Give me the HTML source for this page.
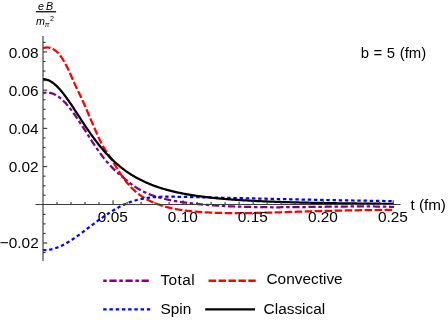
<!DOCTYPE html>
<html><head><meta charset="utf-8"><style>
html,body{margin:0;padding:0;background:#fff;overflow:hidden;}
svg{display:block;will-change:transform;font-family:"Liberation Sans",sans-serif;}
</style></head><body>
<svg width="448" height="327" viewBox="0 0 448 327">
<rect width="448" height="327" fill="#fff"/>
<g fill="none" stroke-width="2.25" stroke-linejoin="round">
<path d="M43.0,93.15 L44.0,92.91 L45.0,92.75 L46.0,92.65 L47.0,92.62 L48.0,92.65 L49.0,92.74 L50.0,92.90 L51.0,93.12 L52.0,93.41 L53.0,93.76 L54.0,94.16 L55.0,94.63 L56.0,95.16 L57.0,95.75 L58.0,96.39 L59.0,97.10 L60.0,97.86 L61.0,98.67 L62.0,99.55 L63.0,100.48 L64.0,101.46 L65.0,102.50 L66.0,103.59 L67.0,104.72 L68.0,105.90 L69.0,107.12 L70.0,108.38 L71.0,109.67 L72.0,111.00 L73.0,112.37 L74.0,113.76 L75.0,115.18 L76.0,116.62 L77.0,118.08 L78.0,119.57 L79.0,121.07 L80.0,122.59 L81.0,124.12 L82.0,125.66 L83.0,127.21 L84.0,128.77 L85.0,130.34 L86.0,131.91 L87.0,133.48 L88.0,135.05 L89.0,136.61 L90.0,138.17 L91.0,139.73 L92.0,141.27 L93.0,142.81 L94.0,144.33 L95.0,145.83 L96.0,147.32 L97.0,148.79 L98.0,150.23 L99.0,151.66 L100.0,153.05 L101.0,154.42 L102.0,155.76 L103.0,157.07 L104.0,158.34 L105.0,159.58 L106.0,160.78 L107.0,161.96 L108.0,163.10 L109.0,164.21 L110.0,165.29 L111.0,166.34 L112.0,167.37 L113.0,168.38 L114.0,169.36 L115.0,170.32 L116.0,171.26 L117.0,172.18 L118.0,173.08 L119.0,173.97 L120.0,174.85 L121.0,175.71 L122.0,176.55 L123.0,177.39 L124.0,178.22 L125.0,179.04 L126.0,179.85 L127.0,180.66 L128.0,181.47 L129.0,182.26 L130.0,183.05 L131.0,183.82 L132.0,184.58 L133.0,185.32 L134.0,186.03 L135.0,186.72 L136.0,187.38 L137.0,188.02 L138.0,188.64 L139.0,189.24 L140.0,189.81 L141.0,190.36 L142.0,190.90 L143.0,191.41 L144.0,191.90 L145.0,192.38 L146.0,192.83 L147.0,193.27 L148.0,193.70 L149.0,194.10 L150.0,194.49 L151.0,194.87 L152.0,195.24 L153.0,195.59 L154.0,195.92 L155.0,196.25 L156.0,196.56 L157.0,196.87 L158.0,197.16 L159.0,197.45 L160.0,197.72 L161.0,197.99 L162.0,198.25 L163.0,198.51 L164.0,198.75 L165.0,198.99 L166.0,199.23 L167.0,199.45 L168.0,199.67 L169.0,199.89 L170.0,200.10 L171.0,200.30 L172.0,200.50 L173.0,200.69 L174.0,200.88 L175.0,201.06 L176.0,201.23 L177.0,201.40 L178.0,201.57 L179.0,201.73 L180.0,201.89 L181.0,202.04 L182.0,202.18 L183.0,202.33 L184.0,202.47 L185.0,202.60 L186.0,202.73 L187.0,202.86 L188.0,202.99 L189.0,203.11 L190.0,203.23 L191.0,203.34 L192.0,203.45 L193.0,203.56 L194.0,203.67 L195.0,203.78 L196.0,203.88 L197.0,203.98 L198.0,204.08 L199.0,204.17 L200.0,204.27 L201.0,204.36 L202.0,204.45 L203.0,204.54 L204.0,204.63 L205.0,204.71 L206.0,204.80 L207.0,204.88 L208.0,204.96 L209.0,205.04 L210.0,205.11 L211.0,205.19 L212.0,205.26 L213.0,205.33 L214.0,205.41 L215.0,205.47 L216.0,205.54 L217.0,205.61 L218.0,205.67 L219.0,205.73 L220.0,205.79 L221.0,205.85 L222.0,205.91 L223.0,205.97 L224.0,206.02 L225.0,206.08 L226.0,206.13 L227.0,206.18 L228.0,206.23 L229.0,206.28 L230.0,206.32 L231.0,206.37 L232.0,206.41 L233.0,206.46 L234.0,206.50 L235.0,206.54 L236.0,206.58 L237.0,206.61 L238.0,206.65 L239.0,206.68 L240.0,206.72 L241.0,206.75 L242.0,206.78 L243.0,206.81 L244.0,206.84 L245.0,206.87 L246.0,206.90 L247.0,206.92 L248.0,206.95 L249.0,206.97 L250.0,206.99 L251.0,207.01 L252.0,207.03 L253.0,207.05 L254.0,207.07 L255.0,207.09 L256.0,207.11 L257.0,207.12 L258.0,207.14 L259.0,207.15 L260.0,207.16 L261.0,207.17 L262.0,207.18 L263.0,207.19 L264.0,207.20 L265.0,207.21 L266.0,207.22 L267.0,207.23 L268.0,207.23 L269.0,207.24 L270.0,207.24 L271.0,207.25 L272.0,207.25 L273.0,207.25 L274.0,207.25 L275.0,207.25 L276.0,207.25 L277.0,207.25 L278.0,207.25 L279.0,207.25 L280.0,207.25 L281.0,207.24 L282.0,207.24 L283.0,207.24 L284.0,207.23 L285.0,207.23 L286.0,207.22 L287.0,207.21 L288.0,207.21 L289.0,207.20 L290.0,207.19 L291.0,207.18 L292.0,207.18 L293.0,207.17 L294.0,207.16 L295.0,207.15 L296.0,207.14 L297.0,207.13 L298.0,207.12 L299.0,207.11 L300.0,207.09 L301.0,207.08 L302.0,207.07 L303.0,207.06 L304.0,207.05 L305.0,207.03 L306.0,207.02 L307.0,207.01 L308.0,206.99 L309.0,206.98 L310.0,206.97 L311.0,206.95 L312.0,206.94 L313.0,206.93 L314.0,206.91 L315.0,206.90 L316.0,206.88 L317.0,206.87 L318.0,206.86 L319.0,206.84 L320.0,206.83 L321.0,206.81 L322.0,206.80 L323.0,206.79 L324.0,206.77 L325.0,206.76 L326.0,206.74 L327.0,206.73 L328.0,206.72 L329.0,206.70 L330.0,206.69 L331.0,206.68 L332.0,206.66 L333.0,206.65 L334.0,206.64 L335.0,206.63 L336.0,206.61 L337.0,206.60 L338.0,206.59 L339.0,206.58 L340.0,206.57 L341.0,206.56 L342.0,206.55 L343.0,206.54 L344.0,206.53 L345.0,206.52 L346.0,206.51 L347.0,206.50 L348.0,206.50 L349.0,206.49 L350.0,206.48 L351.0,206.47 L352.0,206.47 L353.0,206.46 L354.0,206.46 L355.0,206.45 L356.0,206.45 L357.0,206.45 L358.0,206.44 L359.0,206.44 L360.0,206.44 L361.0,206.44 L362.0,206.44 L363.0,206.44 L364.0,206.44 L365.0,206.44 L366.0,206.44 L367.0,206.45 L368.0,206.45 L369.0,206.46 L370.0,206.46 L371.0,206.47 L372.0,206.48 L373.0,206.48 L374.0,206.49 L375.0,206.50 L376.0,206.51 L377.0,206.52 L378.0,206.54 L379.0,206.55 L380.0,206.56 L381.0,206.58 L382.0,206.59 L383.0,206.61 L384.0,206.63 L385.0,206.65 L386.0,206.67 L387.0,206.69 L388.0,206.71 L389.0,206.73 L390.0,206.76 L391.0,206.78 L392.0,206.81 L393.0,206.84 L394.0,206.86" stroke="#800080" stroke-dasharray="3.5 2.7 7.2 2.7"/>
<path d="M43.0,48.14 L44.0,47.85 L45.0,47.64 L46.0,47.51 L47.0,47.46 L48.0,47.50 L49.0,47.62 L50.0,47.84 L51.0,48.14 L52.0,48.54 L53.0,49.03 L54.0,49.62 L55.0,50.32 L56.0,51.11 L57.0,52.02 L58.0,53.03 L59.0,54.15 L60.0,55.38 L61.0,56.72 L62.0,58.16 L63.0,59.71 L64.0,61.36 L65.0,63.10 L66.0,64.95 L67.0,66.88 L68.0,68.91 L69.0,71.03 L70.0,73.23 L71.0,75.48 L72.0,77.77 L73.0,80.08 L74.0,82.36 L75.0,84.61 L76.0,86.80 L77.0,88.92 L78.0,90.99 L79.0,93.04 L80.0,95.08 L81.0,97.15 L82.0,99.26 L83.0,101.43 L84.0,103.68 L85.0,105.98 L86.0,108.32 L87.0,110.68 L88.0,113.05 L89.0,115.41 L90.0,117.75 L91.0,120.08 L92.0,122.40 L93.0,124.70 L94.0,127.00 L95.0,129.30 L96.0,131.59 L97.0,133.88 L98.0,136.14 L99.0,138.35 L100.0,140.49 L101.0,142.53 L102.0,144.46 L103.0,146.25 L104.0,147.94 L105.0,149.54 L106.0,151.08 L107.0,152.57 L108.0,154.04 L109.0,155.51 L110.0,157.00 L111.0,158.53 L112.0,160.11 L113.0,161.73 L114.0,163.37 L115.0,165.02 L116.0,166.67 L117.0,168.31 L118.0,169.92 L119.0,171.50 L120.0,173.04 L121.0,174.54 L122.0,176.00 L123.0,177.43 L124.0,178.81 L125.0,180.15 L126.0,181.44 L127.0,182.69 L128.0,183.89 L129.0,185.05 L130.0,186.16 L131.0,187.23 L132.0,188.26 L133.0,189.24 L134.0,190.19 L135.0,191.10 L136.0,191.97 L137.0,192.80 L138.0,193.61 L139.0,194.37 L140.0,195.11 L141.0,195.82 L142.0,196.49 L143.0,197.14 L144.0,197.76 L145.0,198.36 L146.0,198.93 L147.0,199.47 L148.0,200.00 L149.0,200.50 L150.0,200.99 L151.0,201.46 L152.0,201.91 L153.0,202.34 L154.0,202.76 L155.0,203.17 L156.0,203.56 L157.0,203.94 L158.0,204.31 L159.0,204.67 L160.0,205.01 L161.0,205.35 L162.0,205.67 L163.0,205.98 L164.0,206.28 L165.0,206.58 L166.0,206.86 L167.0,207.13 L168.0,207.39 L169.0,207.64 L170.0,207.88 L171.0,208.11 L172.0,208.34 L173.0,208.55 L174.0,208.76 L175.0,208.96 L176.0,209.15 L177.0,209.33 L178.0,209.51 L179.0,209.68 L180.0,209.84 L181.0,209.99 L182.0,210.14 L183.0,210.28 L184.0,210.42 L185.0,210.55 L186.0,210.67 L187.0,210.79 L188.0,210.91 L189.0,211.02 L190.0,211.12 L191.0,211.22 L192.0,211.32 L193.0,211.41 L194.0,211.50 L195.0,211.58 L196.0,211.66 L197.0,211.74 L198.0,211.82 L199.0,211.89 L200.0,211.96 L201.0,212.03 L202.0,212.10 L203.0,212.16 L204.0,212.22 L205.0,212.28 L206.0,212.34 L207.0,212.39 L208.0,212.45 L209.0,212.50 L210.0,212.54 L211.0,212.59 L212.0,212.64 L213.0,212.68 L214.0,212.72 L215.0,212.76 L216.0,212.79 L217.0,212.83 L218.0,212.86 L219.0,212.89 L220.0,212.92 L221.0,212.94 L222.0,212.97 L223.0,212.99 L224.0,213.01 L225.0,213.03 L226.0,213.05 L227.0,213.06 L228.0,213.08 L229.0,213.09 L230.0,213.10 L231.0,213.11 L232.0,213.12 L233.0,213.13 L234.0,213.13 L235.0,213.14 L236.0,213.14 L237.0,213.14 L238.0,213.14 L239.0,213.14 L240.0,213.14 L241.0,213.13 L242.0,213.13 L243.0,213.12 L244.0,213.11 L245.0,213.10 L246.0,213.09 L247.0,213.08 L248.0,213.07 L249.0,213.05 L250.0,213.04 L251.0,213.03 L252.0,213.01 L253.0,212.99 L254.0,212.97 L255.0,212.95 L256.0,212.93 L257.0,212.91 L258.0,212.89 L259.0,212.87 L260.0,212.85 L261.0,212.82 L262.0,212.80 L263.0,212.77 L264.0,212.75 L265.0,212.72 L266.0,212.70 L267.0,212.67 L268.0,212.64 L269.0,212.61 L270.0,212.58 L271.0,212.55 L272.0,212.53 L273.0,212.50 L274.0,212.47 L275.0,212.43 L276.0,212.40 L277.0,212.37 L278.0,212.34 L279.0,212.31 L280.0,212.28 L281.0,212.25 L282.0,212.22 L283.0,212.18 L284.0,212.15 L285.0,212.12 L286.0,212.09 L287.0,212.06 L288.0,212.02 L289.0,211.99 L290.0,211.96 L291.0,211.93 L292.0,211.90 L293.0,211.87 L294.0,211.83 L295.0,211.80 L296.0,211.77 L297.0,211.74 L298.0,211.71 L299.0,211.68 L300.0,211.65 L301.0,211.62 L302.0,211.59 L303.0,211.56 L304.0,211.53 L305.0,211.50 L306.0,211.47 L307.0,211.45 L308.0,211.42 L309.0,211.39 L310.0,211.36 L311.0,211.33 L312.0,211.30 L313.0,211.28 L314.0,211.25 L315.0,211.22 L316.0,211.19 L317.0,211.17 L318.0,211.14 L319.0,211.11 L320.0,211.09 L321.0,211.06 L322.0,211.04 L323.0,211.01 L324.0,210.99 L325.0,210.96 L326.0,210.93 L327.0,210.91 L328.0,210.89 L329.0,210.86 L330.0,210.84 L331.0,210.81 L332.0,210.79 L333.0,210.77 L334.0,210.74 L335.0,210.72 L336.0,210.70 L337.0,210.68 L338.0,210.65 L339.0,210.63 L340.0,210.61 L341.0,210.59 L342.0,210.57 L343.0,210.55 L344.0,210.53 L345.0,210.51 L346.0,210.49 L347.0,210.47 L348.0,210.45 L349.0,210.43 L350.0,210.41 L351.0,210.39 L352.0,210.37 L353.0,210.35 L354.0,210.34 L355.0,210.32 L356.0,210.30 L357.0,210.28 L358.0,210.27 L359.0,210.25 L360.0,210.24 L361.0,210.22 L362.0,210.20 L363.0,210.19 L364.0,210.18 L365.0,210.16 L366.0,210.15 L367.0,210.13 L368.0,210.12 L369.0,210.11 L370.0,210.09 L371.0,210.08 L372.0,210.07 L373.0,210.06 L374.0,210.04 L375.0,210.03 L376.0,210.02 L377.0,210.01 L378.0,210.00 L379.0,209.99 L380.0,209.98 L381.0,209.97 L382.0,209.96 L383.0,209.96 L384.0,209.95 L385.0,209.94 L386.0,209.93 L387.0,209.93 L388.0,209.92 L389.0,209.91 L390.0,209.91 L391.0,209.90 L392.0,209.90 L393.0,209.89 L394.0,209.89" stroke="#f00" stroke-dasharray="7.5 2.5"/>
<path d="M43.0,250.10 L44.0,250.13 L45.0,250.12 L46.0,250.08 L47.0,250.01 L48.0,249.90 L49.0,249.76 L50.0,249.60 L51.0,249.40 L52.0,249.17 L53.0,248.91 L54.0,248.63 L55.0,248.32 L56.0,247.99 L57.0,247.62 L58.0,247.24 L59.0,246.83 L60.0,246.40 L61.0,245.94 L62.0,245.47 L63.0,244.97 L64.0,244.46 L65.0,243.92 L66.0,243.37 L67.0,242.80 L68.0,242.21 L69.0,241.61 L70.0,240.99 L71.0,240.36 L72.0,239.71 L73.0,239.05 L74.0,238.38 L75.0,237.70 L76.0,237.01 L77.0,236.30 L78.0,235.59 L79.0,234.87 L80.0,234.15 L81.0,233.41 L82.0,232.67 L83.0,231.93 L84.0,231.18 L85.0,230.43 L86.0,229.67 L87.0,228.92 L88.0,228.16 L89.0,227.40 L90.0,226.65 L91.0,225.89 L92.0,225.13 L93.0,224.38 L94.0,223.63 L95.0,222.89 L96.0,222.15 L97.0,221.41 L98.0,220.68 L99.0,219.95 L100.0,219.23 L101.0,218.51 L102.0,217.80 L103.0,217.10 L104.0,216.40 L105.0,215.72 L106.0,215.04 L107.0,214.36 L108.0,213.70 L109.0,213.05 L110.0,212.40 L111.0,211.77 L112.0,211.14 L113.0,210.53 L114.0,209.93 L115.0,209.34 L116.0,208.76 L117.0,208.19 L118.0,207.64 L119.0,207.10 L120.0,206.57 L121.0,206.06 L122.0,205.56 L123.0,205.08 L124.0,204.61 L125.0,204.16 L126.0,203.73 L127.0,203.31 L128.0,202.90 L129.0,202.52 L130.0,202.15 L131.0,201.79 L132.0,201.45 L133.0,201.13 L134.0,200.82 L135.0,200.52 L136.0,200.24 L137.0,199.97 L138.0,199.71 L139.0,199.47 L140.0,199.24 L141.0,199.02 L142.0,198.81 L143.0,198.62 L144.0,198.44 L145.0,198.26 L146.0,198.10 L147.0,197.95 L148.0,197.81 L149.0,197.68 L150.0,197.56 L151.0,197.45 L152.0,197.34 L153.0,197.25 L154.0,197.16 L155.0,197.08 L156.0,197.01 L157.0,196.95 L158.0,196.89 L159.0,196.84 L160.0,196.80 L161.0,196.77 L162.0,196.73 L163.0,196.71 L164.0,196.69 L165.0,196.67 L166.0,196.66 L167.0,196.66 L168.0,196.65 L169.0,196.66 L170.0,196.66 L171.0,196.67 L172.0,196.68 L173.0,196.69 L174.0,196.71 L175.0,196.72 L176.0,196.74 L177.0,196.76 L178.0,196.78 L179.0,196.80 L180.0,196.83 L181.0,196.85 L182.0,196.87 L183.0,196.89 L184.0,196.91 L185.0,196.94 L186.0,196.96 L187.0,196.98 L188.0,197.00 L189.0,197.02 L190.0,197.05 L191.0,197.07 L192.0,197.09 L193.0,197.11 L194.0,197.14 L195.0,197.16 L196.0,197.18 L197.0,197.20 L198.0,197.22 L199.0,197.25 L200.0,197.27 L201.0,197.29 L202.0,197.31 L203.0,197.34 L204.0,197.36 L205.0,197.38 L206.0,197.40 L207.0,197.43 L208.0,197.45 L209.0,197.47 L210.0,197.49 L211.0,197.51 L212.0,197.54 L213.0,197.56 L214.0,197.58 L215.0,197.60 L216.0,197.63 L217.0,197.65 L218.0,197.67 L219.0,197.69 L220.0,197.72 L221.0,197.74 L222.0,197.76 L223.0,197.78 L224.0,197.81 L225.0,197.83 L226.0,197.85 L227.0,197.87 L228.0,197.90 L229.0,197.92 L230.0,197.94 L231.0,197.96 L232.0,197.99 L233.0,198.01 L234.0,198.03 L235.0,198.05 L236.0,198.07 L237.0,198.10 L238.0,198.12 L239.0,198.14 L240.0,198.16 L241.0,198.19 L242.0,198.21 L243.0,198.23 L244.0,198.25 L245.0,198.28 L246.0,198.30 L247.0,198.32 L248.0,198.34 L249.0,198.36 L250.0,198.39 L251.0,198.41 L252.0,198.43 L253.0,198.45 L254.0,198.48 L255.0,198.50 L256.0,198.52 L257.0,198.54 L258.0,198.56 L259.0,198.59 L260.0,198.61 L261.0,198.63 L262.0,198.65 L263.0,198.67 L264.0,198.70 L265.0,198.72 L266.0,198.74 L267.0,198.76 L268.0,198.78 L269.0,198.81 L270.0,198.83 L271.0,198.85 L272.0,198.87 L273.0,198.89 L274.0,198.91 L275.0,198.94 L276.0,198.96 L277.0,198.98 L278.0,199.00 L279.0,199.02 L280.0,199.04 L281.0,199.07 L282.0,199.09 L283.0,199.11 L284.0,199.13 L285.0,199.15 L286.0,199.17 L287.0,199.19 L288.0,199.22 L289.0,199.24 L290.0,199.26 L291.0,199.28 L292.0,199.30 L293.0,199.32 L294.0,199.34 L295.0,199.36 L296.0,199.38 L297.0,199.40 L298.0,199.43 L299.0,199.45 L300.0,199.47 L301.0,199.49 L302.0,199.51 L303.0,199.53 L304.0,199.55 L305.0,199.57 L306.0,199.59 L307.0,199.61 L308.0,199.63 L309.0,199.65 L310.0,199.67 L311.0,199.69 L312.0,199.71 L313.0,199.73 L314.0,199.75 L315.0,199.77 L316.0,199.79 L317.0,199.81 L318.0,199.83 L319.0,199.85 L320.0,199.87 L321.0,199.89 L322.0,199.91 L323.0,199.93 L324.0,199.95 L325.0,199.97 L326.0,199.99 L327.0,200.01 L328.0,200.03 L329.0,200.05 L330.0,200.07 L331.0,200.09 L332.0,200.11 L333.0,200.13 L334.0,200.15 L335.0,200.16 L336.0,200.18 L337.0,200.20 L338.0,200.22 L339.0,200.24 L340.0,200.26 L341.0,200.28 L342.0,200.30 L343.0,200.31 L344.0,200.33 L345.0,200.35 L346.0,200.37 L347.0,200.39 L348.0,200.41 L349.0,200.42 L350.0,200.44 L351.0,200.46 L352.0,200.48 L353.0,200.50 L354.0,200.51 L355.0,200.53 L356.0,200.55 L357.0,200.57 L358.0,200.58 L359.0,200.60 L360.0,200.62 L361.0,200.64 L362.0,200.65 L363.0,200.67 L364.0,200.69 L365.0,200.70 L366.0,200.72 L367.0,200.74 L368.0,200.75 L369.0,200.77 L370.0,200.79 L371.0,200.80 L372.0,200.82 L373.0,200.84 L374.0,200.85 L375.0,200.87 L376.0,200.88 L377.0,200.90 L378.0,200.92 L379.0,200.93 L380.0,200.95 L381.0,200.96 L382.0,200.98 L383.0,200.99 L384.0,201.01 L385.0,201.02 L386.0,201.04 L387.0,201.05 L388.0,201.07 L389.0,201.08 L390.0,201.10 L391.0,201.11 L392.0,201.13 L393.0,201.14 L394.0,201.16" stroke="#00f" stroke-dasharray="3.4 2.8"/>
<path d="M43.0,79.20 L44.0,79.24 L45.0,79.36 L46.0,79.55 L47.0,79.82 L48.0,80.16 L49.0,80.57 L50.0,81.06 L51.0,81.62 L52.0,82.25 L53.0,82.95 L54.0,83.71 L55.0,84.54 L56.0,85.42 L57.0,86.37 L58.0,87.37 L59.0,88.43 L60.0,89.54 L61.0,90.69 L62.0,91.89 L63.0,93.13 L64.0,94.42 L65.0,95.73 L66.0,97.08 L67.0,98.47 L68.0,99.88 L69.0,101.31 L70.0,102.77 L71.0,104.24 L72.0,105.73 L73.0,107.24 L74.0,108.76 L75.0,110.28 L76.0,111.82 L77.0,113.35 L78.0,114.89 L79.0,116.43 L80.0,117.97 L81.0,119.50 L82.0,121.03 L83.0,122.55 L84.0,124.06 L85.0,125.57 L86.0,127.06 L87.0,128.53 L88.0,130.00 L89.0,131.45 L90.0,132.88 L91.0,134.30 L92.0,135.70 L93.0,137.08 L94.0,138.44 L95.0,139.78 L96.0,141.10 L97.0,142.41 L98.0,143.69 L99.0,144.95 L100.0,146.19 L101.0,147.41 L102.0,148.60 L103.0,149.78 L104.0,150.93 L105.0,152.06 L106.0,153.17 L107.0,154.26 L108.0,155.33 L109.0,156.38 L110.0,157.40 L111.0,158.40 L112.0,159.39 L113.0,160.35 L114.0,161.29 L115.0,162.21 L116.0,163.11 L117.0,164.00 L118.0,164.86 L119.0,165.70 L120.0,166.53 L121.0,167.33 L122.0,168.12 L123.0,168.89 L124.0,169.65 L125.0,170.38 L126.0,171.10 L127.0,171.81 L128.0,172.49 L129.0,173.16 L130.0,173.82 L131.0,174.46 L132.0,175.09 L133.0,175.70 L134.0,176.29 L135.0,176.88 L136.0,177.45 L137.0,178.00 L138.0,178.55 L139.0,179.08 L140.0,179.60 L141.0,180.10 L142.0,180.60 L143.0,181.08 L144.0,181.55 L145.0,182.01 L146.0,182.46 L147.0,182.90 L148.0,183.33 L149.0,183.75 L150.0,184.16 L151.0,184.56 L152.0,184.95 L153.0,185.33 L154.0,185.71 L155.0,186.07 L156.0,186.43 L157.0,186.78 L158.0,187.12 L159.0,187.45 L160.0,187.78 L161.0,188.09 L162.0,188.40 L163.0,188.71 L164.0,189.00 L165.0,189.29 L166.0,189.58 L167.0,189.85 L168.0,190.13 L169.0,190.39 L170.0,190.65 L171.0,190.90 L172.0,191.15 L173.0,191.39 L174.0,191.63 L175.0,191.86 L176.0,192.09 L177.0,192.31 L178.0,192.53 L179.0,192.74 L180.0,192.95 L181.0,193.15 L182.0,193.35 L183.0,193.55 L184.0,193.74 L185.0,193.92 L186.0,194.11 L187.0,194.29 L188.0,194.46 L189.0,194.63 L190.0,194.80 L191.0,194.97 L192.0,195.13 L193.0,195.29 L194.0,195.44 L195.0,195.59 L196.0,195.74 L197.0,195.88 L198.0,196.03 L199.0,196.17 L200.0,196.30 L201.0,196.44 L202.0,196.57 L203.0,196.70 L204.0,196.82 L205.0,196.95 L206.0,197.07 L207.0,197.19 L208.0,197.30 L209.0,197.42 L210.0,197.53 L211.0,197.64 L212.0,197.75 L213.0,197.85 L214.0,197.96 L215.0,198.06 L216.0,198.16 L217.0,198.26 L218.0,198.35 L219.0,198.45 L220.0,198.54 L221.0,198.63 L222.0,198.72 L223.0,198.81 L224.0,198.89 L225.0,198.98 L226.0,199.06 L227.0,199.14 L228.0,199.22 L229.0,199.30 L230.0,199.38 L231.0,199.45 L232.0,199.53 L233.0,199.60 L234.0,199.67 L235.0,199.74 L236.0,199.81 L237.0,199.88 L238.0,199.95 L239.0,200.01 L240.0,200.08 L241.0,200.14 L242.0,200.20 L243.0,200.26 L244.0,200.32 L245.0,200.38 L246.0,200.44 L247.0,200.50 L248.0,200.55 L249.0,200.61 L250.0,200.66 L251.0,200.72 L252.0,200.77 L253.0,200.82 L254.0,200.87 L255.0,200.92 L256.0,200.97 L257.0,201.02 L258.0,201.07 L259.0,201.11 L260.0,201.16 L261.0,201.20 L262.0,201.25 L263.0,201.29 L264.0,201.34 L265.0,201.38 L266.0,201.42 L267.0,201.46 L268.0,201.50 L269.0,201.54 L270.0,201.58 L271.0,201.62 L272.0,201.66 L273.0,201.69 L274.0,201.73 L275.0,201.77 L276.0,201.80 L277.0,201.84 L278.0,201.87 L279.0,201.91 L280.0,201.94 L281.0,201.97 L282.0,202.01 L283.0,202.04 L284.0,202.07 L285.0,202.10 L286.0,202.13 L287.0,202.16 L288.0,202.19 L289.0,202.22 L290.0,202.25 L291.0,202.28 L292.0,202.31 L293.0,202.33 L294.0,202.36 L295.0,202.39 L296.0,202.41 L297.0,202.44 L298.0,202.47 L299.0,202.49 L300.0,202.52 L301.0,202.54 L302.0,202.56 L303.0,202.59 L304.0,202.61 L305.0,202.64 L306.0,202.66 L307.0,202.68 L308.0,202.70 L309.0,202.73 L310.0,202.75 L311.0,202.77 L312.0,202.79 L313.0,202.81 L314.0,202.83 L315.0,202.85 L316.0,202.87 L317.0,202.89 L318.0,202.91 L319.0,202.93 L320.0,202.95 L321.0,202.97 L322.0,202.99 L323.0,203.00 L324.0,203.02 L325.0,203.04 L326.0,203.06 L327.0,203.08 L328.0,203.09 L329.0,203.11 L330.0,203.13 L331.0,203.14 L332.0,203.16 L333.0,203.17 L334.0,203.19 L335.0,203.21 L336.0,203.22 L337.0,203.24 L338.0,203.25 L339.0,203.27 L340.0,203.28 L341.0,203.30 L342.0,203.31 L343.0,203.32 L344.0,203.34 L345.0,203.35 L346.0,203.36 L347.0,203.38 L348.0,203.39 L349.0,203.40 L350.0,203.42 L351.0,203.43 L352.0,203.44 L353.0,203.46 L354.0,203.47 L355.0,203.48 L356.0,203.49 L357.0,203.50 L358.0,203.52 L359.0,203.53 L360.0,203.54 L361.0,203.55 L362.0,203.56 L363.0,203.57 L364.0,203.58 L365.0,203.59 L366.0,203.60 L367.0,203.61 L368.0,203.63 L369.0,203.64 L370.0,203.65 L371.0,203.66 L372.0,203.67 L373.0,203.68 L374.0,203.69 L375.0,203.69 L376.0,203.70 L377.0,203.71 L378.0,203.72 L379.0,203.73 L380.0,203.74 L381.0,203.75 L382.0,203.76 L383.0,203.77 L384.0,203.78 L385.0,203.79 L386.0,203.79 L387.0,203.80 L388.0,203.81 L389.0,203.82 L390.0,203.83 L391.0,203.83 L392.0,203.84 L393.0,203.85 L394.0,203.86" stroke="#000"/>
</g><g fill="none" stroke-width="2.4">
<line x1="103.2" y1="280.75" x2="149.2" y2="280.75" stroke="#800080" stroke-dasharray="3.5 2.7 7.2 2.7"/>
<line x1="103.2" y1="309.4" x2="150.3" y2="309.4" stroke="#00f" stroke-dasharray="3.4 2.83"/>
<line x1="208.6" y1="280.75" x2="255.7" y2="280.75" stroke="#f00" stroke-dasharray="7.5 2.44"/>
<line x1="205.2" y1="309.4" x2="255" y2="309.4" stroke="#000"/>
</g>
<g stroke="#3c3c3c" stroke-width="1.15" fill="none">
<line x1="35.5" y1="204.5" x2="400.5" y2="204.5"/>
<line x1="43.0" y1="36.0" x2="43.0" y2="261"/>
<line x1="57.01" y1="204.50" x2="57.01" y2="202.00"/><line x1="71.02" y1="204.50" x2="71.02" y2="202.00"/><line x1="85.03" y1="204.50" x2="85.03" y2="202.00"/><line x1="99.04" y1="204.50" x2="99.04" y2="202.00"/><line x1="113.05" y1="204.50" x2="113.05" y2="200.30"/><line x1="127.06" y1="204.50" x2="127.06" y2="202.00"/><line x1="141.07" y1="204.50" x2="141.07" y2="202.00"/><line x1="155.08" y1="204.50" x2="155.08" y2="202.00"/><line x1="169.09" y1="204.50" x2="169.09" y2="202.00"/><line x1="183.10" y1="204.50" x2="183.10" y2="200.30"/><line x1="197.11" y1="204.50" x2="197.11" y2="202.00"/><line x1="211.12" y1="204.50" x2="211.12" y2="202.00"/><line x1="225.13" y1="204.50" x2="225.13" y2="202.00"/><line x1="239.14" y1="204.50" x2="239.14" y2="202.00"/><line x1="253.15" y1="204.50" x2="253.15" y2="200.30"/><line x1="267.16" y1="204.50" x2="267.16" y2="202.00"/><line x1="281.17" y1="204.50" x2="281.17" y2="202.00"/><line x1="295.18" y1="204.50" x2="295.18" y2="202.00"/><line x1="309.19" y1="204.50" x2="309.19" y2="202.00"/><line x1="323.20" y1="204.50" x2="323.20" y2="200.30"/><line x1="337.21" y1="204.50" x2="337.21" y2="202.00"/><line x1="351.22" y1="204.50" x2="351.22" y2="202.00"/><line x1="365.23" y1="204.50" x2="365.23" y2="202.00"/><line x1="379.24" y1="204.50" x2="379.24" y2="202.00"/><line x1="393.25" y1="204.50" x2="393.25" y2="200.30"/><line x1="43.00" y1="252.56" x2="45.50" y2="252.56"/><line x1="43.00" y1="243.01" x2="47.20" y2="243.01"/><line x1="43.00" y1="233.46" x2="45.50" y2="233.46"/><line x1="43.00" y1="223.91" x2="45.50" y2="223.91"/><line x1="43.00" y1="214.35" x2="45.50" y2="214.35"/><line x1="43.00" y1="195.25" x2="45.50" y2="195.25"/><line x1="43.00" y1="185.70" x2="45.50" y2="185.70"/><line x1="43.00" y1="176.14" x2="45.50" y2="176.14"/><line x1="43.00" y1="166.59" x2="47.20" y2="166.59"/><line x1="43.00" y1="157.04" x2="45.50" y2="157.04"/><line x1="43.00" y1="147.49" x2="45.50" y2="147.49"/><line x1="43.00" y1="137.93" x2="45.50" y2="137.93"/><line x1="43.00" y1="128.38" x2="47.20" y2="128.38"/><line x1="43.00" y1="118.83" x2="45.50" y2="118.83"/><line x1="43.00" y1="109.28" x2="45.50" y2="109.28"/><line x1="43.00" y1="99.72" x2="45.50" y2="99.72"/><line x1="43.00" y1="90.17" x2="47.20" y2="90.17"/><line x1="43.00" y1="80.62" x2="45.50" y2="80.62"/><line x1="43.00" y1="71.06" x2="45.50" y2="71.06"/><line x1="43.00" y1="61.51" x2="45.50" y2="61.51"/><line x1="43.00" y1="51.96" x2="47.20" y2="51.96"/><line x1="43.00" y1="42.41" x2="45.50" y2="42.41"/>
</g>
<g fill="#000" font-size="15.4px">
<text x="112.8" y="221.9" text-anchor="middle">0.05</text><text x="182.8" y="221.9" text-anchor="middle">0.10</text><text x="252.8" y="221.9" text-anchor="middle">0.15</text><text x="322.9" y="221.9" text-anchor="middle">0.20</text><text x="392.9" y="221.9" text-anchor="middle">0.25</text>
<text x="38.7" y="57.84" text-anchor="end">0.08</text><text x="38.7" y="95.58" text-anchor="end">0.06</text><text x="38.7" y="133.72" text-anchor="end">0.04</text><text x="38.7" y="171.96" text-anchor="end">0.02</text><text x="38.7" y="247.84" text-anchor="end">−0.02</text>
<text x="410.5" y="209.8" font-size="15.2px">t (fm)</text>
<text x="360.8" y="57.5" font-size="14.9px" word-spacing="0.4px">b = 5 (fm)</text>
<text x="160.4" y="284.7" letter-spacing="0.42px">Total</text>
<text x="160.4" y="314.2">Spin</text>
<text x="266.5" y="284.4">Convective</text>
<text x="263.6" y="313.9">Classical</text>
</g>
<g fill="#000" font-style="italic" font-size="10.7px">
<text x="37.9" y="10.4" textLength="15.2">e B</text>
<text x="36.0" y="25.3">m</text>
<text x="44.7" y="27.0" font-size="6.8px">π</text>
<text x="50.1" y="20.8" font-size="7.2px" font-style="normal">2</text>
</g>
<line x1="35.9" y1="11.75" x2="56.1" y2="11.75" stroke="#000" stroke-width="1.25"/>
</svg>
</body></html>
